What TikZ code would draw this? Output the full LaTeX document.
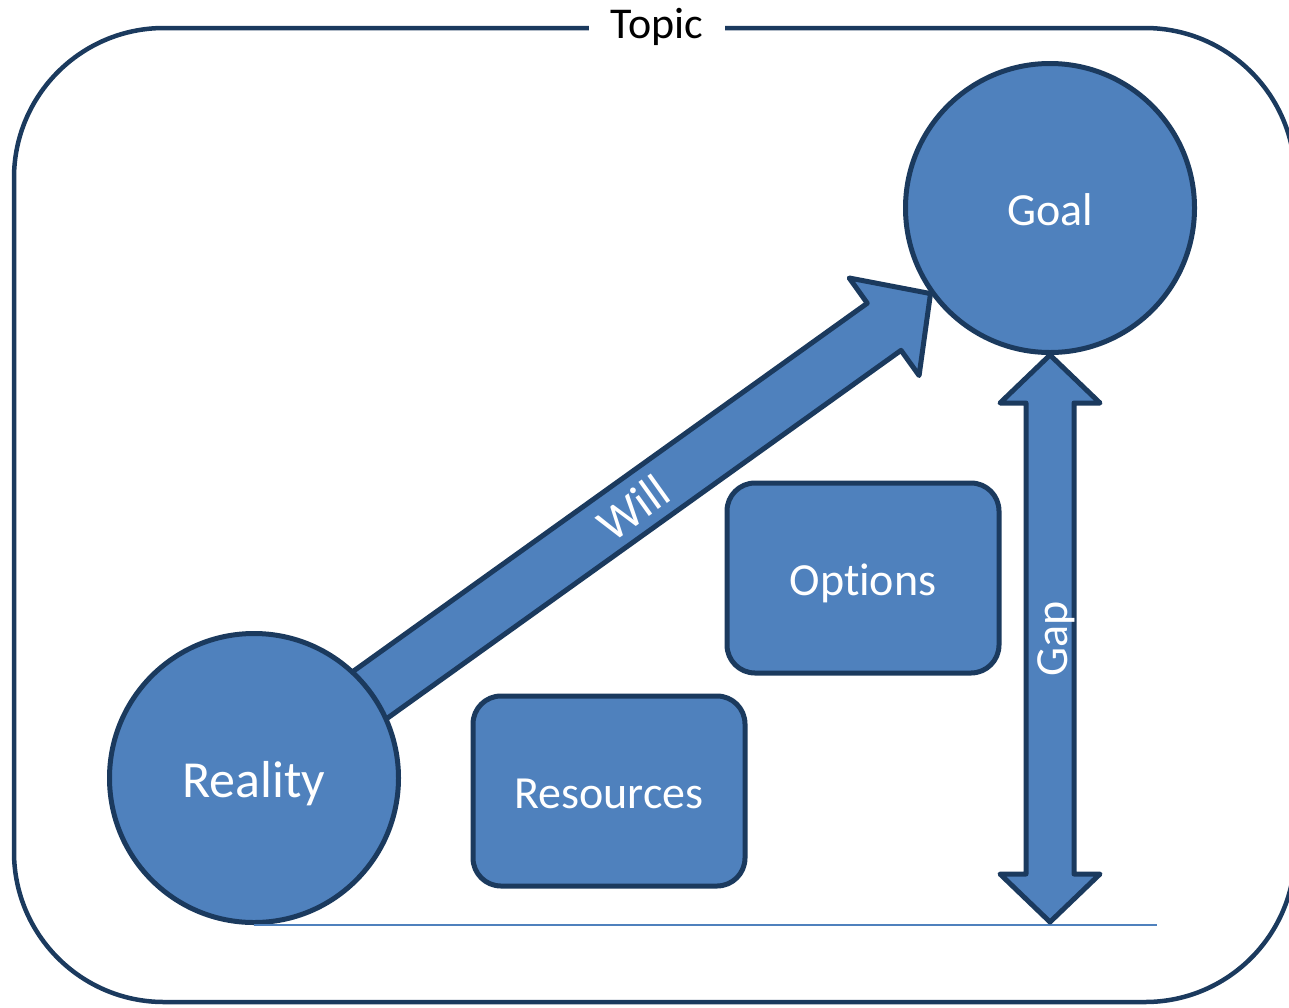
\documentclass[tikz,border=0pt]{standalone}
\usepackage{fontspec}
\setmainfont[Ligatures={NoCommon}]{Carlito}
\usetikzlibrary{calc,backgrounds}

\definecolor{boxblue}{HTML}{4F81BD}
\definecolor{edgeblue}{HTML}{1B3A5E}

\begin{document}
\begin{tikzpicture}[
    x=1pt, y=-1pt,
    bigfont/.style={
        font=\fontsize{46}{55}\selectfont,
        text height=37pt,
        text depth=3pt
    },
    circ/.style={
        circle,
        draw=edgeblue,
        fill=boxblue,
        line width=5pt,
        minimum size=289pt,
        inner sep=0pt,
        text=white,
        bigfont
    },
    card/.style={
        rectangle,
        rounded corners=28pt,
        draw=edgeblue,
        fill=boxblue,
        line width=5pt,
        minimum width=272pt,
        minimum height=190pt,
        text=white,
        bigfont
    },
    fatarrow/.style={
        draw=edgeblue,
        fill=boxblue,
        line width=5pt,
        line join=round
    },
    outerframe/.style={
        draw=edgeblue,
        line width=4.5pt,
        rounded corners=150pt
    },
    floorline/.style={
        draw=boxblue,
        line width=1.5pt
    }
]

\clip (0,0) rectangle (1289,1007);

% Topic frame
\draw[outerframe] (14,28) rectangle (1295,1002);
\node[fill=white, inner xsep=22pt, inner ysep=2pt, font=\fontsize{44}{52}\selectfont] (topic) at (657,27) {Topic};

% Circles and boxes
\node[circ] (goal) at (1050,208) {Goal};
\node[circ, font=\fontsize{52}{62}\selectfont, text height=42pt] (reality) at (254,778) {Reality};
\node[card] (options) at (863,578) {Options};
\node[card] (resources) at (609,791) {Resources};

% Floor line under reality
\coordinate (floorend) at (1157,925);
\draw[floorline] (reality.south |- floorend) -- (floorend);

% Will: from reality towards goal
\path (reality.center) -- (goal) coordinate[pos=1] (willtip);
\coordinate (willhead) at ($(willtip)!57pt!(reality.center)$);
\begin{scope}[on background layer]
    \draw[fatarrow]
        ($(reality.center)!29pt!90:(willtip)$) --
        ($(willhead)!29pt!90:(willtip)$) --
        ($(willhead)!60pt!90:(willtip)$) --
        (willtip) --
        ($(willhead)!60pt!-90:(willtip)$) --
        ($(willhead)!29pt!-90:(willtip)$) --
        ($(reality.center)!29pt!-90:(willtip)$) -- cycle;
    \path (reality.center) -- (willtip)
        node[pos=0.56, sloped, text=white, font=\fontsize{48}{56}\selectfont,
             text height=38pt, text depth=3pt] (will) {Will};
\end{scope}

% Gap: between goal and the floor
\coordinate (gapfoot) at ($(goal.south |- floorend)+(0,-3)$);
\coordinate (gaphead1) at ($(goal.south)!48pt!(gapfoot)$);
\coordinate (gaphead2) at ($(gapfoot)!48pt!(goal.south)$);
\draw[fatarrow]
    (goal.south) --
    ($(gaphead1)+(50,0)$) -- ($(gaphead1)+(24,0)$) --
    ($(gaphead2)+(24,0)$) -- ($(gaphead2)+(50,0)$) --
    (gapfoot) --
    ($(gaphead2)+(-50,0)$) -- ($(gaphead2)+(-24,0)$) --
    ($(gaphead1)+(-24,0)$) -- ($(gaphead1)+(-50,0)$) -- cycle;
\path (goal.south) -- (gapfoot)
    node[midway, rotate=90, text=white, bigfont] (gap) {Gap};

\end{tikzpicture}
\end{document}
